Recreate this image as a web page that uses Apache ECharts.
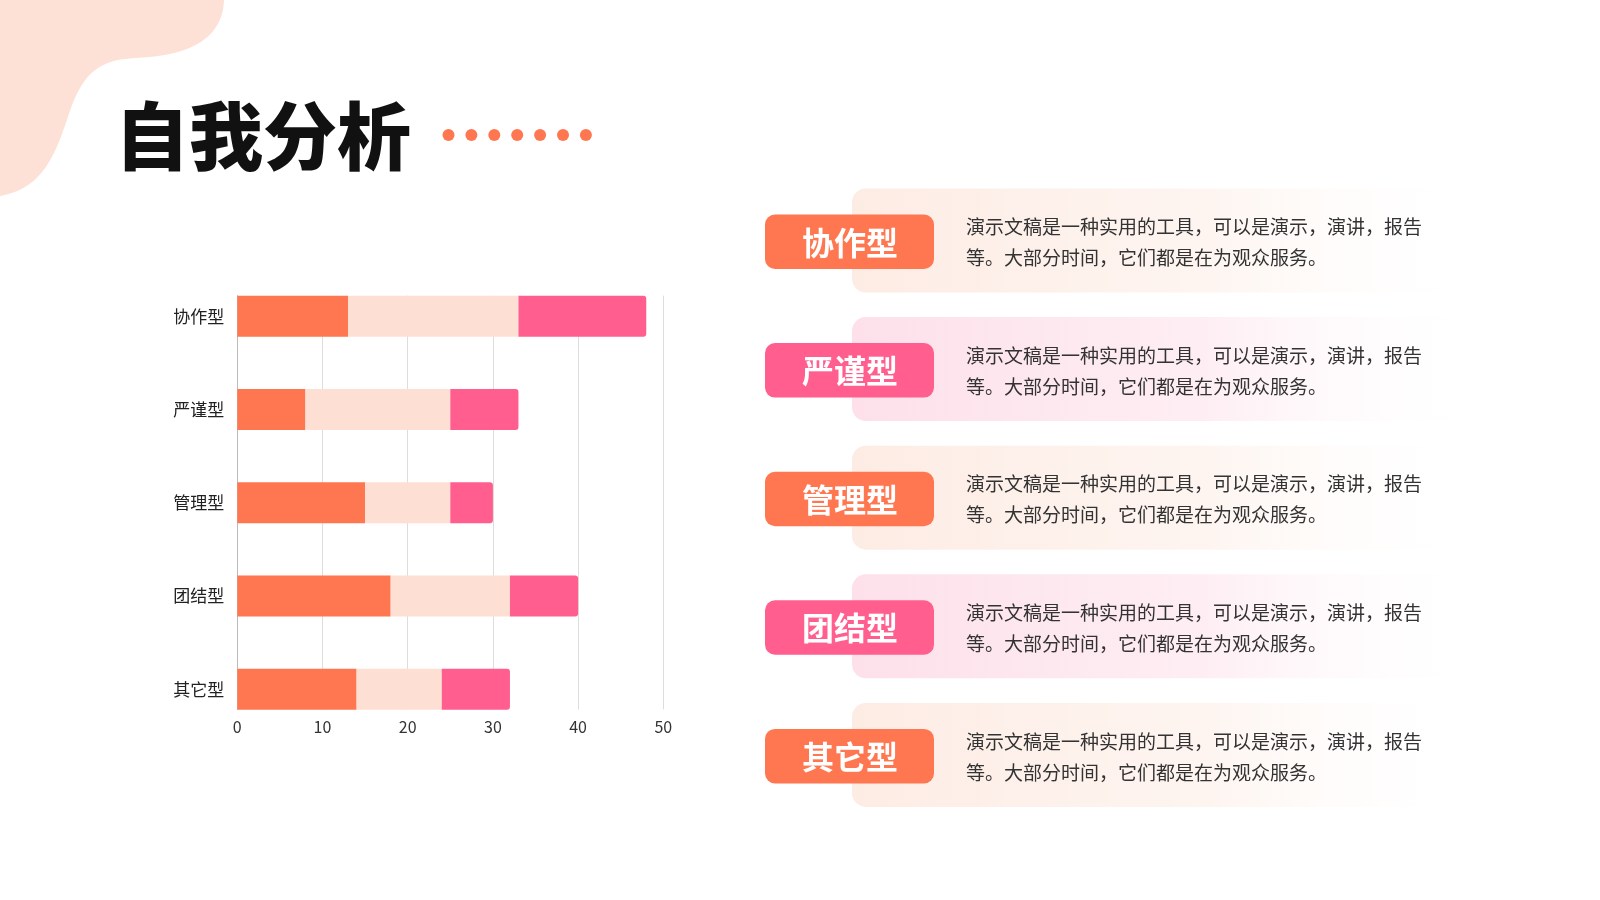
<!DOCTYPE html>
<html>
<head>
<meta charset="utf-8">
<title>自我分析</title>
<script src="https://cdn.jsdelivr.net/npm/echarts@6/dist/echarts.min.js"></script>
<style>
  html, body { margin: 0; padding: 0; background: #fff; }
  #chart { width: 1600px; height: 900px; }
</style>
</head>
<body>
<div id="chart"></div>
<script>
// 数据
var categories = ['协作型', '严谨型', '管理型', '团结型', '其它型']
var partA = [13, 8, 15, 18, 14]
var partB = [20, 17, 10, 14, 10]
var partC = [15, 8, 5, 8, 8]
var xTicks = [0, 10, 20, 30, 40, 50]

var cardLabels = ['协作型', '严谨型', '管理型', '团结型', '其它型']
var cardLine1 = '演示文稿是一种实用的工具，可以是演示，演讲，报告'
var cardLine2 = '等。大部分时间，它们都是在为观众服务。'
var cardKinds = ['orange', 'pink', 'orange', 'pink', 'orange']

var ORANGE = '#FF7750'
var PINK = '#FF5E8E'
var LIGHT = '#FDDFD3'
var FONT = '"Noto Sans CJK SC", "Noto Sans", sans-serif'

var chart = echarts.init(document.getElementById('chart'))

// 横向渐变（左 -> 右淡出）
function fadeRight(color) {
  return {
    type: 'linear', x: 0, y: 0, x2: 1, y2: 0,
    colorStops: [
      { offset: 0, color: color },
      { offset: 0.55, color: color.replace(/[\d.]+\)$/, '0.55)') },
      { offset: 1, color: 'rgba(255,255,255,0)' }
    ]
  }
}

// 左上角装饰形状：三次贝塞尔曲线采样成多边形
function blobPoints() {
  var segs = [
    [[224, 0], [223, 35], [195, 56], [135, 58]],
    [[135, 58], [100, 60], [85, 72], [72, 105]],
    [[72, 105], [58, 145], [48, 188], [0, 196]]
  ]
  var pts = [[0, 0]]
  segs.forEach(function (s) {
    for (var k = 0; k <= 20; k++) {
      var t = k / 20, u = 1 - t
      var a = u * u * u, b = 3 * u * u * t, c = 3 * u * t * t, d = t * t * t
      pts.push([
        a * s[0][0] + b * s[1][0] + c * s[2][0] + d * s[3][0],
        a * s[0][1] + b * s[1][1] + c * s[2][1] + d * s[3][1]
      ])
    }
  })
  return pts
}

// 右侧卡片
function buildCards() {
  var els = []
  var top0 = 214.5, step = 128.6
  cardLabels.forEach(function (label, i) {
    var y = top0 + i * step
    var pink = cardKinds[i] === 'pink'
    els.push({
      type: 'rect',
      shape: { x: 852, y: y - 26, width: 640, height: 104, r: 14 },
      style: { fill: fadeRight(pink ? 'rgba(253,224,234,1)' : 'rgba(253,236,228,1)') },
      z: 1
    })
    els.push({
      type: 'rect',
      shape: { x: 765, y: y, width: 169, height: 54.5, r: 10 },
      style: { fill: pink ? PINK : ORANGE },
      z: 2
    })
    els.push({
      type: 'text',
      style: {
        text: label, x: 850, y: y + 28, align: 'center', verticalAlign: 'middle',
        font: 'bold 32px ' + FONT, fill: '#fff'
      },
      z: 3
    })
    els.push({
      type: 'text',
      style: {
        text: cardLine1, x: 966, y: y + 12.5, verticalAlign: 'middle',
        font: '19px ' + FONT, fill: '#333'
      },
      z: 3
    })
    els.push({
      type: 'text',
      style: {
        text: cardLine2, x: 966, y: y + 43.5, verticalAlign: 'middle',
        font: '19px ' + FONT, fill: '#333'
      },
      z: 3
    })
  })
  return els
}

// 标题后的小圆点
function buildDots() {
  var els = []
  for (var i = 0; i < 7; i++) {
    els.push({
      type: 'circle',
      shape: { cx: 448.5 + i * 22.9, cy: 135, r: 6 },
      style: { fill: ORANGE }
    })
  }
  return els
}

var option = {
  animation: false,
  backgroundColor: '#fff',
  textStyle: { fontFamily: FONT },
  graphic: [
    {
      type: 'polygon',
      shape: { points: blobPoints() },
      style: { fill: '#FDE1D7' }
    },
    {
      type: 'text',
      style: {
        text: '自我分析', x: 115, y: 136, verticalAlign: 'middle',
        font: '900 74px ' + FONT, fill: '#111'
      }
    }
  ].concat(buildDots(), buildCards()),
  grid: [
    // 网格线
    { left: 237.3, width: 426, top: 295.7, height: 413.6 },
    // 条形
    { left: 237.3, width: 426, top: 316.2, height: 373 }
  ],
  xAxis: [
    {
      gridIndex: 0,
      type: 'value',
      min: xTicks[0],
      max: xTicks[xTicks.length - 1],
      interval: 10,
      axisLine: { show: false },
      axisTick: { show: false },
      axisLabel: { color: '#333', fontSize: 16, margin: 10 },
      splitLine: { lineStyle: { color: '#DDDDDD', width: 1 } }
    },
    {
      gridIndex: 1,
      type: 'value',
      min: 0,
      max: 50,
      show: false
    }
  ],
  yAxis: [
    {
      gridIndex: 0,
      type: 'value',
      min: 0,
      max: 1,
      axisLine: { show: true, lineStyle: { color: '#BBBBBB' } },
      axisTick: { show: false },
      axisLabel: { show: false },
      splitLine: { show: false }
    },
    {
      gridIndex: 1,
      type: 'category',
      data: categories,
      inverse: true,
      boundaryGap: false,
      axisLine: { show: false },
      axisTick: { show: false },
      axisLabel: { color: '#222', fontSize: 17, margin: 13 },
      splitLine: { show: false }
    }
  ],
  series: [
    {
      type: 'bar', stack: 'total', xAxisIndex: 1, yAxisIndex: 1,
      barWidth: 41, data: partA, itemStyle: { color: ORANGE }
    },
    {
      type: 'bar', stack: 'total', xAxisIndex: 1, yAxisIndex: 1,
      barWidth: 41, data: partB, itemStyle: { color: LIGHT }
    },
    {
      type: 'bar', stack: 'total', xAxisIndex: 1, yAxisIndex: 1,
      barWidth: 41, data: partC, itemStyle: { color: PINK, borderRadius: [0, 3, 3, 0] }
    }
  ]
}

chart.setOption(option)
</script>
</body>
</html>
